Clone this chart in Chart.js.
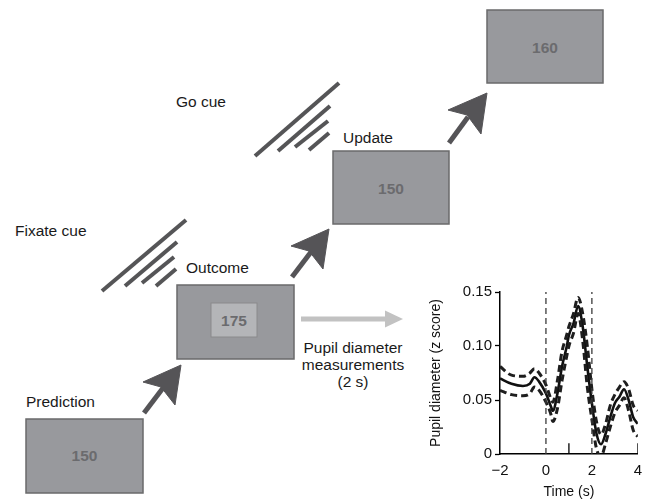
<!DOCTYPE html>
<html>
<head>
<meta charset="utf-8">
<script src="https://cdn.jsdelivr.net/npm/chart.js@4.4.1/dist/chart.umd.min.js"></script>
<style>
  body { margin: 0; background: #fff; }
  #wrap { position: relative; width: 650px; height: 502px; overflow: hidden; font-family: "Liberation Sans", Arial, Helvetica, sans-serif; }
  #diagram { position: absolute; left: 0; top: 0; }
  #pupilChart { position: absolute; left: 420px; top: 280px; }
  .lbl { font-size: 15.5px; fill: #1a1a1a; }
  .num { font-size: 15.5px; font-weight: bold; fill: #6b6b6e; }
  .box { fill: #98999d; stroke: #6a6a6b; stroke-width: 1.5; }
  .cue { stroke: #555557; stroke-width: 4; }
  .arr { fill: #555457; stroke: #555457; }
</style>
</head>
<body>
<div id="wrap">
<svg id="diagram" width="650" height="502">
  <!-- Prediction -->
  <text class="lbl" x="26" y="407">Prediction</text>
  <rect class="box" x="26" y="419" width="117" height="74"/>
  <text class="num" x="84.5" y="461" text-anchor="middle">150</text>

  <!-- arrow prediction -> outcome -->
  <line class="arr" x1="144" y1="413" x2="163" y2="388" stroke-width="5"/>
  <polygon class="arr" points="181,365 143,382 161,387 175,405"/>

  <!-- Fixate cue -->
  <text class="lbl" x="15" y="236">Fixate cue</text>
  <line class="cue" x1="102" y1="291" x2="186" y2="220"/>
  <line class="cue" x1="125" y1="286" x2="177" y2="242"/>
  <line class="cue" x1="142" y1="283" x2="174" y2="257"/>
  <line class="cue" x1="156" y1="286" x2="176" y2="269"/>

  <!-- Outcome -->
  <text class="lbl" x="186" y="273">Outcome</text>
  <rect class="box" x="177" y="285" width="117" height="74"/>
  <rect x="211" y="303" width="46" height="34" fill="#b4b5b8" stroke="#8a8a8c" stroke-width="1"/>
  <text class="num" x="234" y="325.5" text-anchor="middle">175</text>

  <!-- grey arrow + caption -->
  <line x1="301" y1="319" x2="387" y2="319" stroke="#c2c2c2" stroke-width="5"/>
  <polygon points="385,310.5 403,319 385,327.5" fill="#c2c2c2"/>
  <text class="lbl" x="353" y="353" text-anchor="middle">Pupil diameter</text>
  <text class="lbl" x="353" y="370" text-anchor="middle">measurements</text>
  <text class="lbl" x="353" y="387" text-anchor="middle">(2 s)</text>

  <!-- arrow outcome -> update -->
  <line class="arr" x1="292" y1="277" x2="311" y2="252" stroke-width="5"/>
  <polygon class="arr" points="329,229 291,246 309,251 323,269"/>

  <!-- Go cue -->
  <text class="lbl" x="176" y="107">Go cue</text>
  <line class="cue" x1="255" y1="156" x2="339" y2="83"/>
  <line class="cue" x1="278" y1="151" x2="330" y2="106"/>
  <line class="cue" x1="295" y1="147" x2="328" y2="121"/>
  <line class="cue" x1="309" y1="150" x2="329" y2="133"/>

  <!-- Update -->
  <text class="lbl" x="343" y="143">Update</text>
  <rect class="box" x="333" y="151" width="116" height="73"/>
  <text class="num" x="391" y="193.5" text-anchor="middle">150</text>

  <!-- arrow update -> next -->
  <line class="arr" x1="449" y1="143" x2="468" y2="117" stroke-width="5"/>
  <polygon class="arr" points="487,93 448,110 467,115 481,134"/>

  <!-- next trial -->
  <rect class="box" x="487" y="10" width="116" height="73"/>
  <text class="num" x="545" y="52.5" text-anchor="middle">160</text>
</svg>
<canvas id="pupilChart" width="230" height="222"></canvas>
</div>

<script>
// time axis (s) and pupil traces
const timeS  = [-2, -1.5, -1, -0.7, -0.5, -0.3, 0, 0.2, 0.3, 0.5, 0.7, 0.9, 1.0, 1.2, 1.4, 1.6, 1.8, 2.0, 2.2, 2.4, 2.6, 2.8, 3.0, 3.2, 3.4, 3.6, 3.8, 4];
const meanZ  = [0.070, 0.065, 0.063, 0.065, 0.071, 0.067, 0.056, 0.045, 0.040, 0.056, 0.081, 0.099, 0.110, 0.121, 0.137, 0.118, 0.081, 0.047, 0.019, 0.009, 0.019, 0.034, 0.047, 0.053, 0.060, 0.050, 0.034, 0.028];
const upperZ = [0.081, 0.073, 0.072, 0.075, 0.079, 0.075, 0.064, 0.052, 0.048, 0.068, 0.095, 0.110, 0.118, 0.130, 0.145, 0.130, 0.100, 0.060, 0.030, 0.018, 0.028, 0.045, 0.055, 0.062, 0.067, 0.060, 0.045, 0.040];
const lowerZ = [0.059, 0.055, 0.054, 0.056, 0.062, 0.059, 0.048, 0.038, 0.030, 0.042, 0.068, 0.090, 0.100, 0.112, 0.130, 0.105, 0.062, 0.032, 0.005, -0.002, 0.010, 0.025, 0.038, 0.045, 0.052, 0.040, 0.022, 0.016];
const eventTimes = [0, 2];      // dashed verticals
const tickTimes  = [1, 4];      // short inward ticks on the time axis
const tickHeight = 0.01;
const xTicks = [-2, 0, 2, 4];
const yTicks = [0, 0.05, 0.10, 0.15];

const pts = ys => timeS.map((t, i) => ({ x: t, y: ys[i] }));

const datasets = [];
eventTimes.forEach(t => {
  datasets.push({
    data: [{ x: t, y: 0 }, { x: t, y: 0.15 }],
    borderColor: '#3a3a3a', borderWidth: 1.3, borderDash: [6, 4],
    pointRadius: 0, tension: 0
  });
});
tickTimes.forEach(t => {
  datasets.push({
    data: [{ x: t, y: 0 }, { x: t, y: tickHeight }],
    borderColor: '#000', borderWidth: 1.3, pointRadius: 0, tension: 0
  });
});
datasets.push({
  label: 'upper', data: pts(upperZ),
  borderColor: '#1e1e1e', borderWidth: 3, borderDash: [7, 4],
  pointRadius: 0, tension: 0.4, cubicInterpolationMode: 'monotone'
});
datasets.push({
  label: 'lower', data: pts(lowerZ),
  borderColor: '#1e1e1e', borderWidth: 3, borderDash: [7, 4],
  pointRadius: 0, tension: 0.4, cubicInterpolationMode: 'monotone'
});
datasets.push({
  label: 'mean', data: pts(meanZ),
  borderColor: '#111', borderWidth: 2.6,
  pointRadius: 0, tension: 0.4, cubicInterpolationMode: 'monotone'
});

const fam = '"Liberation Sans", Arial, Helvetica, sans-serif';

new Chart(document.getElementById('pupilChart'), {
  type: 'line',
  data: { datasets },
  options: {
    responsive: false,
    animation: false,
    layout: { padding: { top: 12, right: 12, left: 0, bottom: 0 } },
    plugins: { legend: { display: false }, tooltip: { enabled: false } },
    scales: {
      x: {
        type: 'linear', min: -2, max: 4,
        afterBuildTicks: s => { s.ticks = xTicks.map(v => ({ value: v })); },
        afterFit: s => { s.height = 48; },
        ticks: {
          color: '#111', font: { family: fam, size: 15 }, padding: 8,
          callback: v => v < 0 ? '\u2212' + Math.abs(v) : String(v)
        },
        grid: { drawOnChartArea: false, drawTicks: false },
        border: { color: '#000', width: 1.5 },
        title: { display: true, text: 'Time (s)', color: '#111', font: { family: fam, size: 14 }, padding: { top: 0, bottom: 1 } }
      },
      y: {
        min: 0, max: 0.15,
        afterBuildTicks: s => { s.ticks = yTicks.map(v => ({ value: v })); },
        afterFit: s => { s.width = 80; },
        ticks: {
          color: '#111', font: { family: fam, size: 15 }, padding: 3,
          callback: v => v === 0 ? '0' : v.toFixed(2)
        },
        grid: { drawOnChartArea: false, drawTicks: true, tickLength: 5, tickColor: '#000', tickWidth: 1.3 },
        border: { color: '#000', width: 1.5 },
        title: { display: true, text: 'Pupil diameter (z score)', color: '#111', font: { family: fam, size: 14 }, padding: { top: 8, bottom: 0 } }
      }
    }
  }
});
</script>
</body>
</html>
